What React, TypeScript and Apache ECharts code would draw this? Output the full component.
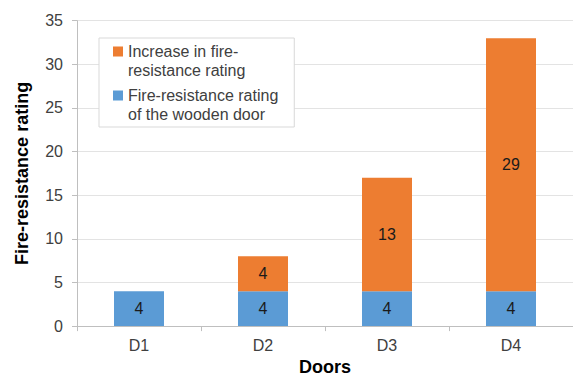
import React, { useEffect, useRef } from "react";
import * as echarts from "echarts";

const doors = ["D1", "D2", "D3", "D4"];
const woodenRating = [4, 4, 4, 4];
const ratingIncrease = [0, 4, 13, 29];
const yTicks = { min: 0, max: 35, interval: 5 };

const increaseName = "Increase in fire-resistance rating";
const woodenName = "Fire-resistance rating of the wooden door";
const legendLines: Record<string, string> = {
  [increaseName]: "Increase in fire-\nresistance rating",
  [woodenName]: "Fire-resistance rating\nof the wooden door",
};

const BLUE = "#5b9bd5";
const ORANGE = "#ed7d31";
const FONT = "Arial, 'Liberation Sans', sans-serif";

// Square swatch sitting on the first text line of a two-line legend entry;
// the tiny corner specks stretch the icon's box to the full entry height.
const swatch =
  "path://M0,0L0.01,0L0.01,0.01Z M0,4.5L10,4.5L10,14.5L0,14.5Z M9.99,37.99L10,37.99L10,38Z";

export default function App() {
  const ref = useRef<HTMLDivElement>(null);

  useEffect(() => {
    if (!ref.current) return;
    const chart = echarts.init(ref.current, undefined, { renderer: "svg" });

    const valueLabel = {
      show: true,
      position: "inside" as const,
      color: "#1a1a1a",
      fontSize: 16,
      fontFamily: FONT,
      formatter: (p: any) => (p.value > 0 ? String(p.value) : ""),
    };

    chart.setOption({
      animation: false,
      backgroundColor: "#ffffff",
      textStyle: { fontFamily: FONT },
      grid: { left: 77, top: 20.7, bottom: 47.4, right: -11, containLabel: false },
      legend: {
        orient: "vertical",
        left: 99,
        top: 38,
        padding: [4, 16, 3, 14],
        borderColor: "#d9d9d9",
        borderWidth: 1,
        backgroundColor: "#ffffff",
        itemWidth: 10,
        itemHeight: 38,
        itemGap: 6,
        icon: swatch,
        selectedMode: false,
        data: [increaseName, woodenName],
        formatter: (name: string) => legendLines[name] ?? name,
        textStyle: { fontSize: 16, lineHeight: 19, color: "#404040", fontFamily: FONT },
      },
      xAxis: {
        type: "category",
        data: doors,
        name: "Doors",
        nameLocation: "middle",
        nameGap: 28,
        nameTextStyle: { fontSize: 18, fontWeight: "bold", color: "#000000", fontFamily: FONT },
        axisLine: { lineStyle: { color: "#bfbfbf", width: 1 } },
        axisTick: { show: true, length: 5, lineStyle: { color: "#bfbfbf" } },
        axisLabel: { fontSize: 16, color: "#404040", margin: 11, fontFamily: FONT },
      },
      yAxis: {
        type: "value",
        min: yTicks.min,
        max: yTicks.max,
        interval: yTicks.interval,
        name: "Fire-resistance rating",
        nameLocation: "middle",
        nameGap: 46,
        nameRotate: 90,
        nameTextStyle: { fontSize: 18, fontWeight: "bold", color: "#000000", fontFamily: FONT },
        axisLine: { show: true, lineStyle: { color: "#bfbfbf", width: 1 } },
        axisTick: { show: true, length: 5, lineStyle: { color: "#bfbfbf" } },
        axisLabel: { fontSize: 16, color: "#404040", margin: 14, fontFamily: FONT },
        splitLine: { show: true, lineStyle: { color: "#e3e3e3", width: 1 } },
      },
      series: [
        {
          name: woodenName,
          type: "bar",
          stack: "rating",
          barWidth: 50,
          data: woodenRating,
          itemStyle: { color: BLUE },
          label: valueLabel,
        },
        {
          name: increaseName,
          type: "bar",
          stack: "rating",
          barWidth: 50,
          data: ratingIncrease,
          itemStyle: { color: ORANGE },
          label: valueLabel,
        },
      ],
    });

    return () => chart.dispose();
  }, []);

  return (
    <div
      ref={ref}
      style={{ position: "fixed", left: 0, top: 0, width: 573, height: 381 }}
    />
  );
}
